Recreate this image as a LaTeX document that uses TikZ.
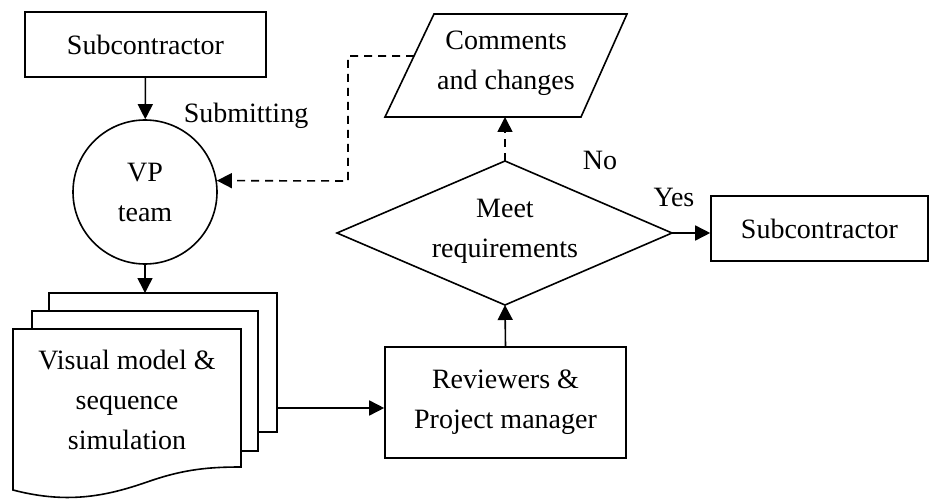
\documentclass[tikz,border=0pt]{standalone}
\usepackage{fontspec}
\setmainfont{Liberation Serif}
\usetikzlibrary{shapes.geometric,arrows.meta,calc}
\begin{document}
\begin{tikzpicture}[x=1pt,y=-1pt,line width=1.6pt,
  txt/.style={font=\fontsize{28}{40}\selectfont,align=center,inner sep=0pt},
  box/.style={txt,draw,rectangle},
  arr/.style={-{Triangle[length=15pt,width=15pt]}},
  dasharr/.style={arr,dashed,dash pattern=on 8pt off 6pt}]
\useasboundingbox (0,0) rectangle (929,500);

% left subcontractor
\node[box,minimum width=241pt,minimum height=65pt] (sub1) at (145.5,44.5) {Subcontractor};
% VP team
\node[txt,draw,circle,minimum size=144pt] (vp) at (145,192) {VP\\team};
\node[txt] (subm) at (246,116) {Submitting};

% document stack
\draw[fill=white] (49,293) rectangle (277,432);
\draw[fill=white] (32,311) rectangle (258,451);
\draw[fill=white] (13,329) -- (241,329) -- (241,467)
  .. controls (210,467) and (185,469) .. (150,481)
  .. controls (110,495) and (70,505) .. (13,490) -- cycle;
\node[txt] (vm) at (127,400) {Visual model \&\\sequence\\simulation};
\coordinate (backtop) at (145,293);
\coordinate (backright) at (277,408);

% reviewers
\node[box,minimum width=241pt,minimum height=111pt] (rev) at (505.5,402.5) {Reviewers \&\\Project manager};
% decision
\coordinate (dt) at (505,161);
\coordinate (dl) at (337,233);
\coordinate (dr) at (672,233);
\coordinate (db) at (505,305);
\draw (dt) -- (dr) -- (db) -- (dl) -- cycle;
\node[txt] (dm) at (505,231) {Meet\\requirements};
% right subcontractor
\node[box,minimum width=217pt,minimum height=65pt] (sub2) at (819.5,228.5) {Subcontractor};

% comments parallelogram
\coordinate (pa) at (385,117);
\coordinate (pb) at (434,14);
\coordinate (pc) at (627,14);
\coordinate (pd) at (581,117);
\draw (pa) -- (pb) -- (pc) -- (pd) -- cycle;
\node[txt] (cc) at (506,63) {Comments\\and changes};
\coordinate (ccb) at (505,117);
\coordinate (ccl) at (414,56);
\coordinate (bend) at (348,181);

\node[txt] (no) at (600,160) {No};
\node[txt] (yes) at (674,197) {Yes};

% connectors
\draw[arr] (sub1) -- (vp);
\draw[arr] (vp) -- (backtop);
\draw[arr] (backright) -- (backright -| rev.west);
\draw[arr] (rev.north) -- (db);
\draw[arr] (dr) -- (dr -| sub2.west);
\draw[dasharr] (dt) -- (ccb);
\draw[dasharr] (ccl) -| (bend) -- (vp.9);
\end{tikzpicture}
\end{document}
